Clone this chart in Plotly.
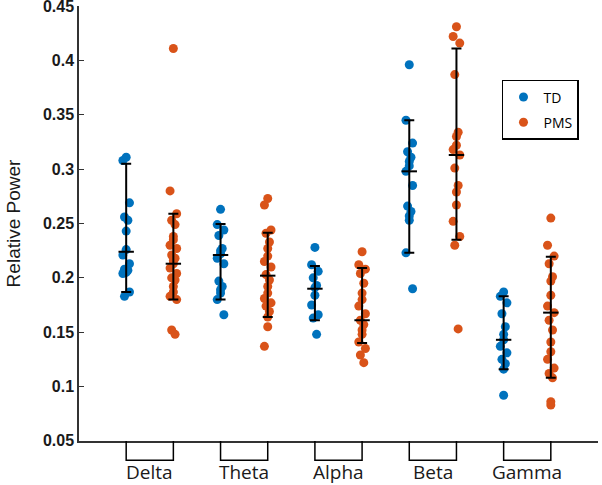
import plotly.graph_objects as go

bands = ["Delta", "Theta", "Alpha", "Beta", "Gamma"]

td_delta = [0.311, 0.308, 0.269, 0.256, 0.253, 0.243, 0.226, 0.221, 0.213, 0.208, 0.207, 0.206, 0.205, 0.204, 0.187, 0.183]
td_theta = [0.263, 0.249, 0.244, 0.239, 0.227, 0.225, 0.222, 0.218, 0.213, 0.197, 0.192, 0.189, 0.186, 0.180, 0.166]
td_alpha = [0.228, 0.212, 0.206, 0.200, 0.193, 0.191, 0.184, 0.175, 0.166, 0.163, 0.148]
td_beta = [0.396, 0.345, 0.324, 0.316, 0.311, 0.307, 0.303, 0.298, 0.285, 0.266, 0.261, 0.257, 0.253, 0.223, 0.190]
td_gamma = [0.187, 0.183, 0.177, 0.167, 0.155, 0.148, 0.143, 0.137, 0.131, 0.125, 0.121, 0.116, 0.092]

pms_delta = [0.411, 0.280, 0.259, 0.253, 0.249, 0.238, 0.235, 0.230, 0.227, 0.221, 0.218, 0.216, 0.213, 0.209, 0.204, 0.200, 0.198, 0.192, 0.187, 0.183, 0.180, 0.152, 0.148]
pms_theta = [0.273, 0.267, 0.244, 0.241, 0.233, 0.227, 0.220, 0.215, 0.210, 0.203, 0.198, 0.192, 0.186, 0.181, 0.177, 0.174, 0.169, 0.164, 0.155, 0.137]
pms_alpha = [0.224, 0.212, 0.208, 0.204, 0.195, 0.186, 0.180, 0.174, 0.167, 0.161, 0.157, 0.152, 0.148, 0.141, 0.135, 0.129, 0.122]
pms_beta = [0.431, 0.422, 0.416, 0.387, 0.334, 0.330, 0.322, 0.318, 0.313, 0.301, 0.285, 0.279, 0.267, 0.252, 0.238, 0.230, 0.153]
pms_gamma = [0.255, 0.230, 0.220, 0.213, 0.201, 0.197, 0.184, 0.174, 0.168, 0.161, 0.152, 0.141, 0.132, 0.125, 0.117, 0.112, 0.108, 0.086, 0.083]

# error bar summaries: low, median, high
td_low = [0.187, 0.180, 0.161, 0.223, 0.116]
td_med = [0.224, 0.221, 0.190, 0.298, 0.143]
td_high = [0.305, 0.2495, 0.211, 0.345, 0.183]
pms_low = [0.180, 0.164, 0.140, 0.235, 0.108]
pms_med = [0.213, 0.202, 0.161, 0.313, 0.168]
pms_high = [0.259, 0.2415, 0.209, 0.411, 0.2195]

y_ticks = [0.05, 0.1, 0.15, 0.2, 0.25, 0.3, 0.35, 0.4, 0.45]
y_tick_labels = ["0.05", "0.1", "0.15", "0.2", "0.25", "0.3", "0.35", "0.4", "0.45"]

td_groups = [td_delta, td_theta, td_alpha, td_beta, td_gamma]
pms_groups = [pms_delta, pms_theta, pms_alpha, pms_beta, pms_gamma]

BLUE = "#0072BD"
ORANGE = "#D95319"
jit = [0, -0.035, 0.035, -0.018, 0.018, 0.0]

td_pos = [i + 1 for i in range(5)]
pms_pos = [i + 1.5 for i in range(5)]

fig = go.Figure()

def pts(groups, pos):
    xs, ys = [], []
    for g, p in zip(groups, pos):
        for k, v in enumerate(g):
            xs.append(p + jit[k % len(jit)])
            ys.append(v)
    return xs, ys

for name, groups, pos, col in [("TD", td_groups, td_pos, BLUE), ("PMS", pms_groups, pms_pos, ORANGE)]:
    xs, ys = pts(groups, pos)
    fig.add_trace(go.Scatter(x=xs, y=ys, mode="markers", name=name, legendgroup=name,
                             marker=dict(color=col, size=9, line=dict(width=0))))

for pos, lo, md, hi in [(td_pos, td_low, td_med, td_high), (pms_pos, pms_low, pms_med, pms_high)]:
    fig.add_trace(go.Scatter(
        x=pos, y=md, mode="markers", showlegend=False,
        marker=dict(symbol="line-ew", size=11, line=dict(width=2, color="black"), color="black"),
        error_y=dict(type="data", symmetric=False,
                     array=[h - m for h, m in zip(hi, md)],
                     arrayminus=[m - l for m, l in zip(md, lo)],
                     color="black", thickness=2, width=5)))

# brackets and labels
yb = -0.044
for i, b in enumerate(bands):
    x1, x2 = td_pos[i], pms_pos[i]
    fig.add_shape(type="path", xref="x", yref="paper",
                  path=f"M {x1},0 L {x1},{yb} L {x2},{yb} L {x2},0",
                  line=dict(color="black", width=1.5))
    fig.add_annotation(x=(x1 + x2) / 2, y=-0.072, xref="x", yref="paper", text=b,
                       showarrow=False, yanchor="middle",
                       font=dict(family="Open Sans", size=19, color="#1a1a1a"))

fig.update_layout(
    width=602, height=485,
    margin=dict(l=79, r=4, t=6, b=44, autoexpand=False),
    paper_bgcolor="white", plot_bgcolor="white",
    showlegend=True,
    legend=dict(x=0.815, y=0.83, xanchor="left", yanchor="top",
                bordercolor="black", borderwidth=1.5, bgcolor="white",
                font=dict(family="Open Sans", size=14, color="black"),
                traceorder="grouped", tracegroupgap=4),
    xaxis=dict(range=[0.5, 6.0], showgrid=False, zeroline=False, showticklabels=False,
               ticks="", showline=True, linecolor="#333333", linewidth=1.5, automargin=False),
    yaxis=dict(range=[0.0499, 0.4501], showgrid=False, zeroline=False, automargin=False,
               tickvals=y_ticks, ticktext=y_tick_labels, ticklabeloverflow="allow",
               ticks="inside", ticklen=5, tickcolor="#333333", tickwidth=1.2,
               showline=True, linecolor="#333333", linewidth=1.5,
               tickfont=dict(family="Liberation Sans", size=16, color="#1a1a1a", weight="bold"),
               title=dict(text="Relative Power", standoff=17,
                          font=dict(family="Liberation Sans", size=19, color="#1a1a1a"))),
)

fig.write_html("out.html", config={"displayModeBar": False},
               post_script="document.body.style.margin='0';")
